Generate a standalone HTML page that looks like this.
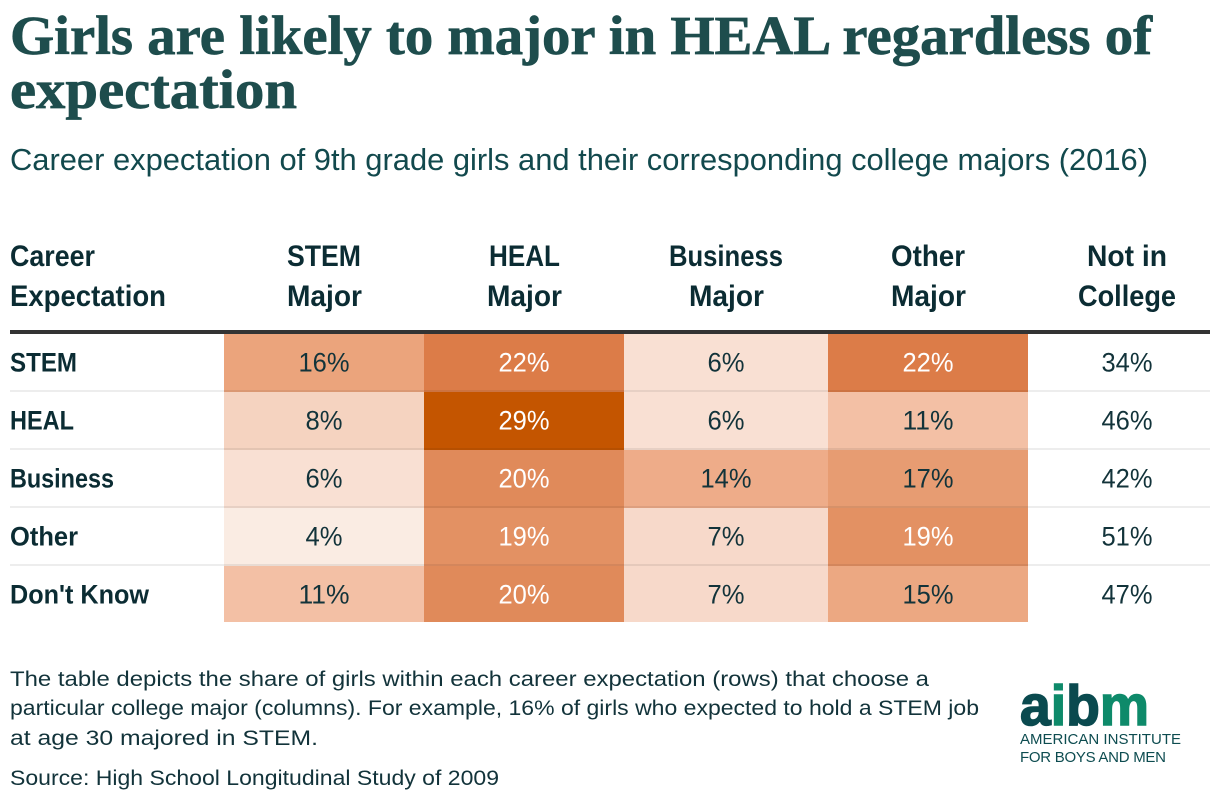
<!DOCTYPE html>
<html lang="en">
<head>
<meta charset="utf-8">
<title>Girls are likely to major in HEAL regardless of expectation</title>
<style>
html,body{margin:0;padding:0;background:#fff;width:1220px;height:802px;overflow:hidden}
svg{display:block}
.serif{font-family:"Liberation Serif","DejaVu Serif",serif;font-weight:700}
.sans{font-family:"Liberation Sans",sans-serif}
</style>
</head>
<body>
<svg id="chart" width="1220" height="802" viewBox="0 0 1220 802" xmlns="http://www.w3.org/2000/svg">
  <text class="serif" x="10" y="54" font-size="55" fill="#1e4d4d" stroke="#1e4d4d" stroke-width="0.7" textLength="1142" lengthAdjust="spacingAndGlyphs">Girls are likely to major in HEAL regardless of</text>
  <text class="serif" x="10" y="108" font-size="55" fill="#1e4d4d" stroke="#1e4d4d" stroke-width="0.7" textLength="287" lengthAdjust="spacingAndGlyphs">expectation</text>
  <text class="sans" x="10" y="170" font-size="30.5" fill="#12494d" textLength="1138" lengthAdjust="spacingAndGlyphs">Career expectation of 9th grade girls and their corresponding college majors (2016)</text>

  <g id="headers"></g>
  <g id="cells"></g>
  <g id="gridlines"></g>
  <g id="labels"></g>
  <g id="values"></g>
  <rect x="10" y="330" width="1200" height="4" fill="#333333"></rect>

  <g class="sans" font-size="21.5" fill="#12333a">
    <text x="10" y="686" textLength="919" lengthAdjust="spacingAndGlyphs">The table depicts the share of girls within each career expectation (rows) that choose a</text>
    <text x="10" y="715" textLength="969" lengthAdjust="spacingAndGlyphs">particular college major (columns). For example, 16% of girls who expected to hold a STEM job</text>
    <text x="10" y="745" textLength="308" lengthAdjust="spacingAndGlyphs">at age 30 majored in STEM.</text>
    <text x="10" y="785" textLength="489" lengthAdjust="spacingAndGlyphs">Source: High School Longitudinal Study of 2009</text>
  </g>

  <g class="sans">
    <text x="1020" y="725" font-size="57" font-weight="700" stroke-width="1.6" textLength="129" lengthAdjust="spacingAndGlyphs"><tspan fill="#0a4a4f" stroke="#0a4a4f">a</tspan><tspan fill="#0e8a6a" stroke="#0e8a6a">i</tspan><tspan fill="#0a4a4f" stroke="#0a4a4f">b</tspan><tspan fill="#0e8a6a" stroke="#0e8a6a">m</tspan></text>
    <text x="1020" y="744" font-size="15" fill="#0d4c50" textLength="161" lengthAdjust="spacing">AMERICAN INSTITUTE</text>
    <text x="1020" y="762" font-size="15" fill="#0d4c50" textLength="146" lengthAdjust="spacing">FOR BOYS AND MEN</text>
  </g>
</svg>
<script>
const rowNames = ["STEM", "HEAL", "Business", "Other", "Don't Know"];
const stemMajor = [16, 8, 6, 4, 11];
const healMajor = [22, 29, 20, 19, 20];
const businessMajor = [6, 6, 14, 7, 7];
const otherMajor = [22, 11, 17, 19, 15];
const notInCollege = [34, 46, 42, 51, 47];

const SVGNS = "http://www.w3.org/2000/svg";
const heatColumns = [stemMajor, healMajor, businessMajor, otherMajor];
const columnEdges = [224, 424, 624, 828, 1028];
const centers = [324, 524, 726, 928, 1127];
const rowTop = i => 334 + 58 * i;
const rowBaseline = i => 371.5 + 58 * i;
const rowBottom = i => (i === rowNames.length - 1 ? 622 : rowTop(i + 1));

// Colour ramp: share value -> RGB
const ramp = [[4,[250,236,227]],[6,[249,224,211]],[7,[247,217,202]],[8,[245,211,192]],[11,[243,192,165]],[14,[238,172,137]],[15,[236,168,130]],[16,[235,164,124]],[17,[231,156,114]],[19,[227,145,99]],[20,[224,138,90]],[22,[220,124,72]],[29,[196,85,0]]];
function colorFor(v) {
  let lo = ramp[0], hi = ramp[ramp.length - 1];
  if (v <= lo[0]) return "rgb(" + lo[1].join(",") + ")";
  if (v >= hi[0]) return "rgb(" + hi[1].join(",") + ")";
  for (let k = 0; k < ramp.length - 1; k++) {
    if (v >= ramp[k][0] && v <= ramp[k + 1][0]) { lo = ramp[k]; hi = ramp[k + 1]; break; }
  }
  const t = (v - lo[0]) / (hi[0] - lo[0]);
  return "rgb(" + lo[1].map((c, n) => Math.round(c + (hi[1][n] - c) * t)).join(",") + ")";
}

const make = (tag, attrs, parent, txt) => {
  const el = document.createElementNS(SVGNS, tag);
  for (const k in attrs) el.setAttribute(k, attrs[k]);
  if (txt !== undefined) el.textContent = txt;
  parent.appendChild(el);
  return el;
};

const FONT = '"Liberation Sans", sans-serif';
const headerLines = [
  [["Career", 10, 85, "start"], ["Expectation", 10, 156, "start"]],
  [["STEM", 287, 74, "start"], ["Major", 287, 75, "start"]],
  [["HEAL", 489, 71, "start"], ["Major", 487, 75, "start"]],
  [["Business", 669, 114, "start"], ["Major", 689, 75, "start"]],
  [["Other", 891, 74, "start"], ["Major", 891, 75, "start"]],
  [["Not in", 1087, 80, "start"], ["College", 1078, 98, "start"]]
];
const headersG = document.getElementById("headers");
headerLines.forEach(col => {
  col.forEach((ln, li) => {
    const el = make("text", {x: ln[1], y: 266 + li * 40, "font-family": FONT, "font-size": 29.5, "font-weight": 700, fill: "#0b2c33", textLength: ln[2], lengthAdjust: "spacingAndGlyphs"}, headersG, ln[0]);
    
    
  });
});

const cellsG = document.getElementById("cells");
const valuesG = document.getElementById("values");
function valueText(v, cx, i, color) {
  const s = v + "%";
  const w = s.length === 3 ? 51 : 37;
  const el = make("text", {x: cx - w / 2, y: rowBaseline(i), "font-family": FONT, "font-size": 27, fill: color, textLength: w, lengthAdjust: "spacingAndGlyphs"}, valuesG, s);
  
  
}
heatColumns.forEach((col, c) => {
  col.forEach((v, i) => {
    const rect = make("rect", {x: columnEdges[c], y: rowTop(i), width: columnEdges[c + 1] - columnEdges[c], height: rowBottom(i) - rowTop(i), fill: colorFor(v)}, cellsG);
    
    
    valueText(v, centers[c], i, v >= 19 ? "#ffffff" : "#12333a");
  });
});
notInCollege.forEach((v, i) => valueText(v, centers[4], i, "#12333a"));

const gridG = document.getElementById("gridlines");
rowNames.slice(1).forEach((_, i) => {
  const ln = make("rect", {x: 10, y: rowTop(i + 1) - 2, width: 1200, height: 2, fill: "#000000", "fill-opacity": 0.07}, gridG);
  
  
});

const labelWidths = [67, 64, 104, 68, 139];
const labelsG = document.getElementById("labels");
rowNames.forEach((name, i) => {
  const el = make("text", {x: 10, y: rowBaseline(i), "font-family": FONT, "font-size": 26.5, "font-weight": 700, fill: "#0b2c33", textLength: labelWidths[i], lengthAdjust: "spacingAndGlyphs"}, labelsG, name);
  
  
});
</script>
</body>
</html>
